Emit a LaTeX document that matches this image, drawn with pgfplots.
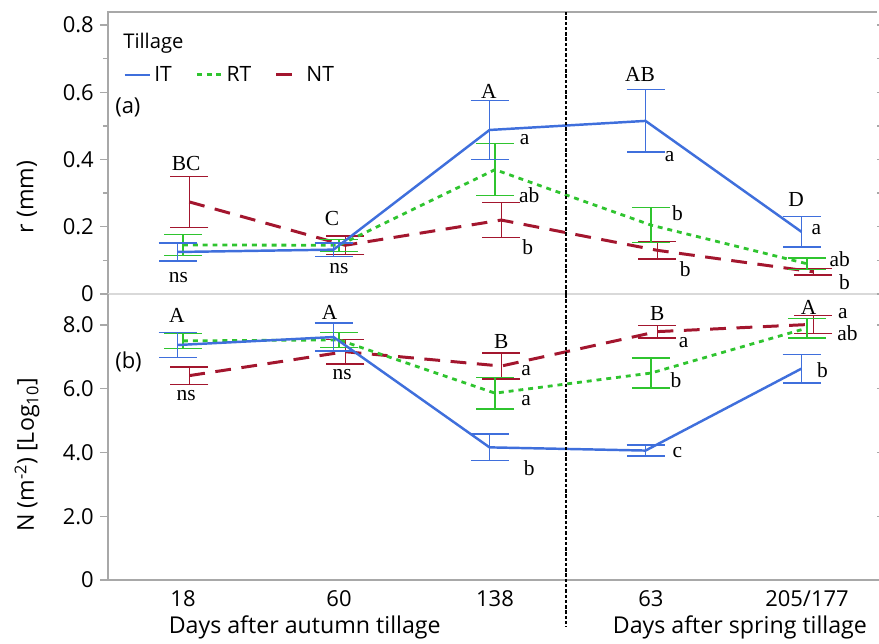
\documentclass[border=0pt]{standalone}
\usepackage{fontspec}
\setmainfont{Open Sans}
\newfontfamily\tnr{Liberation Serif}
\usepackage{pgfplots}
\usepackage{pgfplotstable}
\pgfplotsset{compat=1.18}

\definecolor{itblue}{HTML}{3F6FDC}
\definecolor{rtgreen}{HTML}{2FC42F}
\definecolor{ntred}{HTML}{A3162E}
\definecolor{framegray}{HTML}{A8A8A8}

% r (mm): x offset, mean, error
\pgfplotstableread{
x y e
-0.035 0.125 0.027
0.965 0.132 0.020
1.965 0.488 0.087
2.965 0.515 0.093
3.965 0.185 0.045
}\ITr
\pgfplotstableread{
x y e
0.000 0.146 0.031
1.000 0.145 0.018
2.000 0.370 0.077
3.000 0.205 0.052
4.000 0.090 0.017
}\RTr
\pgfplotstableread{
x y e
0.040 0.274 0.076
1.040 0.145 0.028
2.040 0.220 0.052
3.040 0.130 0.026
4.040 0.066 0.009
}\NTr
% N (m-2) log10
\pgfplotstableread{
x y e
-0.035 7.37 0.39
0.965 7.62 0.44
1.965 4.16 0.42
2.965 4.06 0.17
3.965 6.63 0.45
}\ITn
\pgfplotstableread{
x y e
0.000 7.50 0.24
1.000 7.53 0.24
2.000 5.86 0.50
3.000 6.49 0.47
4.000 7.90 0.31
}\RTn
\pgfplotstableread{
x y e
0.040 6.41 0.27
1.040 7.16 0.39
2.040 6.71 0.41
3.040 7.79 0.20
4.040 8.02 0.28
}\NTn

\tikzset{
  itl/.style={itblue, line width=1.4pt},
  rtl/.style={rtgreen, line width=1.6pt, dash pattern=on 2.8pt off 2.8pt},
  ntl/.style={ntred, line width=1.7pt, dash pattern=on 9pt off 6pt},
  lab/.style={font=\tnr\fontsize{12.2}{14}\selectfont, inner sep=1pt},
}
\pgfplotsset{
  panel/.style={scale only axis, width=15.38cm, xmin=-0.481, xmax=4.449,
    axis line style={draw=none}, clip=false,
    tick align=outside, major tick length=0.16cm, minor tick length=0.1cm,
    ytick style={framegray, line width=0.8pt}, xtick style={draw=none},
    ticklabel style={font=\fontsize{12.5}{14}\selectfont},
    /pgf/number format/assume math mode=true},
  ebar/.style={forget plot, mark=none,
    error bars/.cd, y dir=both, y explicit, error mark=|,
    error bar style={solid, line width=0.8pt, #1},
    error mark options={solid, line width=0.8pt, #1, mark size=0.38cm}},
}

\begin{document}
\begin{tikzpicture}
\path[use as bounding box] (-2.16cm,0.24cm) rectangle (15.42cm,-12.64cm);

\begin{axis}[panel, at={(0,0)}, anchor=north west, height=5.64cm,
  ymin=0, ymax=0.839, ytick={0,0.2,0.4,0.6,0.8},
  yticklabels={0,0.2,0.4,0.6,0.8},
  minor ytick={0.1,0.3,0.5,0.7}, xtick=\empty,
  legend style={at={(0.0195,0.777)}, anchor=west, draw=none, fill=none,
    inner sep=0pt, font=\fontsize{12}{14}\selectfont,
    /tikz/every even column/.append style={column sep=0.4cm}},
  legend columns=3, legend cell align=left,
  legend image code/.code={\draw[#1] (0cm,0cm) -- (0.5cm,0cm);}]
\addlegendimage{itl}\addlegendentry{IT}
\addlegendimage{rtl}\addlegendentry{RT}
\addlegendimage{ntl}\addlegendentry{NT}
\addplot[ntl, ebar=ntred] table[x=x, y=y, y error=e] {\NTr};
\addplot[rtl, ebar=rtgreen] table[x=x, y=y, y error=e] {\RTr};
\addplot[itl, ebar=itblue] table[x=x, y=y, y error=e] {\ITr};
\draw[framegray, line width=0.8pt] (rel axis cs:0,0) -- (rel axis cs:0,1) -- (rel axis cs:1,1);
\draw[black!15, line width=0.8pt] (rel axis cs:0,0) -- (rel axis cs:1,0);
\draw[black, line width=0.7pt, dash pattern=on 2pt off 1pt] (axis cs:2.455,0) -- (axis cs:2.455,0.839);
\node[anchor=west, inner sep=0pt, font=\fontsize{11.5}{13}\selectfont] at (rel axis cs:0.0195,0.89) {Tillage};
\node[anchor=west, font=\fontsize{12.5}{14}\selectfont, inner sep=0pt] at (rel axis cs:0.009,0.66) {(a)};
\node[lab] at (axis cs:0.02,0.387) {BC};
\node[lab] at (axis cs:-0.03,0.05) {ns};
\node[lab] at (axis cs:0.955,0.226) {C};
\node[lab] at (axis cs:1.0,0.077) {ns};
\node[lab] at (axis cs:1.96,0.604) {A};
\node[lab] at (axis cs:2.19,0.458) {a};
\node[lab] at (axis cs:2.22,0.295) {ab};
\node[lab] at (axis cs:2.21,0.14) {b};
\node[lab] at (axis cs:2.93,0.652) {AB};
\node[lab] at (axis cs:3.12,0.408) {a};
\node[lab] at (axis cs:3.17,0.241) {b};
\node[lab] at (axis cs:3.22,0.074) {b};
\node[lab] at (axis cs:3.93,0.28) {D};
\node[lab] at (axis cs:4.06,0.193) {a};
\node[lab] at (axis cs:4.21,0.104) {ab};
\node[lab] at (axis cs:4.24,0.036) {b};
\end{axis}

\begin{axis}[panel, at={(0,-5.64cm)}, anchor=north west, height=5.72cm,
  ymin=0, ymax=8.97, ytick={0,2,4,6,8},
  yticklabels={0,2.0,4.0,6.0,8.0},
  xtick={0,1,2,3,4}, xticklabels={18,60,138,63,205/177},
  xticklabel style={yshift=0.08cm}]
\addplot[ntl, ebar=ntred] table[x=x, y=y, y error=e] {\NTn};
\addplot[rtl, ebar=rtgreen] table[x=x, y=y, y error=e] {\RTn};
\addplot[itl, ebar=itblue] table[x=x, y=y, y error=e] {\ITn};
\draw[framegray, line width=0.8pt] (rel axis cs:0,1) -- (rel axis cs:0,0) -- (rel axis cs:1,0);
\draw[black, line width=0.7pt, dash pattern=on 2pt off 1pt] (axis cs:2.455,8.97) -- (axis cs:2.455,-1.47);
\node[anchor=west, font=\fontsize{12.5}{14}\selectfont, inner sep=0pt] at (rel axis cs:0.009,0.762) {(b)};
\node[lab] at (axis cs:-0.04,8.31) {A};
\node[lab] at (axis cs:0.02,5.77) {ns};
\node[lab] at (axis cs:0.94,8.4) {A};
\node[lab] at (axis cs:1.02,6.43) {ns};
\node[lab] at (axis cs:2.04,7.49) {B};
\node[lab] at (axis cs:2.2,6.58) {a};
\node[lab] at (axis cs:2.2,5.64) {a};
\node[lab] at (axis cs:2.22,3.51) {b};
\node[lab] at (axis cs:3.04,8.37) {B};
\node[lab] at (axis cs:3.21,7.46) {a};
\node[lab] at (axis cs:3.16,6.27) {b};
\node[lab] at (axis cs:3.17,4.01) {c};
\node[lab] at (axis cs:4.01,8.56) {A};
\node[lab] at (axis cs:4.23,8.37) {a};
\node[lab] at (axis cs:4.26,7.74) {ab};
\node[lab] at (axis cs:4.1,6.58) {b};
\node[font=\fontsize{13.2}{15}\selectfont] at (axis cs:0.78,-1.5) {Days after autumn tillage};
\node[font=\fontsize{13.2}{15}\selectfont] at (axis cs:3.57,-1.5) {Days after spring tillage};
\end{axis}

\node[rotate=90, font=\fontsize{13.2}{15}\selectfont] at (-1.62cm,-3.7cm) {r (mm)};
\node[rotate=90, font=\fontsize{13.2}{15}\selectfont] at (-1.62cm,-8.86cm) {N (m\textsuperscript{-2}) [Log\textsubscript{10}]};
\end{tikzpicture}
\end{document}
